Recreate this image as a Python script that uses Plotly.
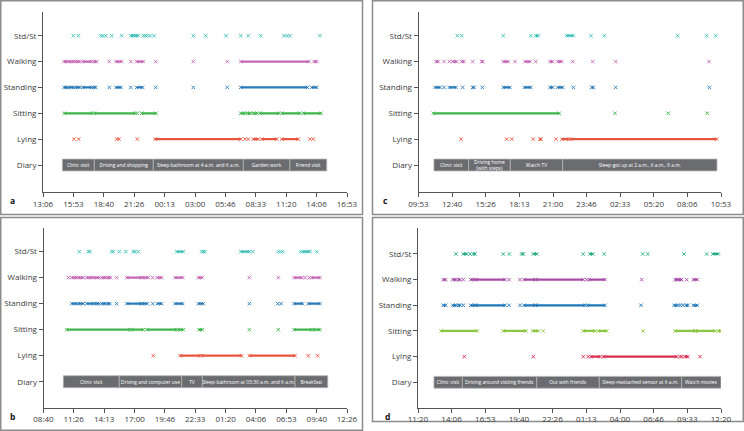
import plotly.graph_objects as go

# ---------------- data ----------------
ROWS = ["Diary", "Lying", "Sitting", "Standing", "Walking", "Std/St"]

# tick labels (clock time) for each panel
A_TICKS = ["13:06", "15:53", "18:40", "21:26", "00:13", "03:00", "05:46", "08:33", "11:20", "14:06", "16:53"]
B_TICKS = ["08:40", "11:26", "14:13", "17:00", "19:46", "22:33", "01:20", "04:06", "06:53", "09:40", "12:26"]
C_TICKS = ["09:53", "12:40", "15:26", "18:13", "21:00", "23:46", "02:33", "05:20", "08:06", "10:53"]
D_TICKS = ["11:20", "14:06", "16:53", "19:40", "22:26", "01:13", "04:00", "06:46", "09:33", "12:20"]

# events in hours since midnight of day 1 (values > 24 = next day);
# a single number = isolated epoch, a pair = continuous run
A_STDST = [15.87, 16.33, 18.37, 18.58, 18.83, 19.38, 20.29, [21.12, 21.35], [21.5, 21.81], 22.27, 22.45,
           22.63, 22.88, 23.24, 26.84, 27.97, 29.82, 31.17, 31.86, 32.99, 35.12, 35.4, 35.67, 38.41]
A_WALK = [[15.02, 15.3], [15.45, 15.9], [16.05, 16.48], [16.73, 17.55], [17.75, 18.01], 19.16, [19.77, 20.29],
          21.12, [21.66, 22.27], 23.40, 26.84, 29.94, [31.17, 37.41], [37.87, 38.12]]
A_STAND = [[15.02, 15.3], [15.45, 15.9], [16.05, 16.48], [16.73, 17.55], [17.7, 17.92], 19.16, [19.77, 20.23],
           21.12, [21.66, 22.21], 23.40, 26.84, 29.94, [31.17, 37.26], [37.66, 38.12]]
A_SIT = [[15.05, 17.6], [17.79, 21.51], 21.72, [22.12, 23.43], [31.17, 31.56], [31.77, 32.08], [32.32, 32.69],
         [32.93, 34.67], [34.92, 36.59], [36.89, 38.51]]
A_LIE = [15.93, 16.36, 19.84, 20.05, 21.72, [23.34, 31.17], 31.56, 31.86, [32.32, 32.78], [33.09, 34.46],
         [34.92, 36.43], 37.5, 37.8]
A_DIARY_EDGES = [14.87, 17.79, 23.18, 31.41, 35.67, 39.03]
A_DIARY = ["Clinic visit", "Driving and shopping", "Sleep-bathroom at 4 a.m. and 6 a.m.", "Garden work",
           "Friend visit"]

B_STDST = [11.94, 12.77, 12.92, 14.91, 15.05, 15.6, 16.21, 16.88, 17.04, 17.34, [20.85, 21.46], 23.14, 23.29,
           23.44, [26.71, 27.5], 27.81, 30.15, 30.35, 30.55, 32.2, [32.4, 32.9], 33.05, 33.66]
B_WALK = [10.94, [11.25, 11.7], [11.85, 12.31], [12.62, 13.1], [13.25, 13.77], [13.99, 14.35], [14.5, 14.81],
          15.36, [16.28, 17.6], [17.75, 18.25], 18.66, [19.08, 19.48], [20.7, 21.4], [22.83, 23.2], 27.5, 30.15,
          [31.59, 32.3], 32.59, 32.98, [33.2, 33.96]]
B_STAND = [[11.25, 11.7], [11.85, 12.31], [12.62, 13.2], [13.35, 13.77], [13.99, 14.35], [14.5, 14.75], 15.36,
           [16.28, 17.6], [17.7, 18.16], 18.66, [19.08, 19.48], [20.7, 21.4], [22.83, 23.29], 27.5, 30.09, 30.4,
           [31.59, 32.38], [32.89, 33.96]]
B_SIT = [[10.79, 16.58], [16.74, 17.8], [18.11, 20.85], [21.0, 21.46], [22.89, 23.2], 27.5, 30.15, [31.59, 33.2],
         [33.35, 33.96]]
B_LIE = [18.71, [21.16, 22.98], [23.14, 26.8], [27.5, 31.68], 32.89, 33.75]
B_DIARY_EDGES = [10.48, 15.6, 21.31, 23.2, 31.68, 34.67]
B_DIARY = ["Clinic visit", "Driving and computer use", "TV", "Sleep-bathroom at 03:30 a.m. and 6 a.m.",
           "Breakfast"]

C_STDST = [13.09, 13.45, 16.89, 19.16, [19.57, 19.78], [22.13, 22.68], 24.14, 25.24, 31.3, 33.7, 34.44]
C_WALK = [[11.33, 11.52], 11.99, 12.43, [12.71, 13.04], [13.45, 13.64], 14.36, [15.11, 15.19], [16.89, 17.3],
          17.86, [18.68, 19.1], 19.57, [20.75, 20.97], [21.39, 21.72], 22.63, 24.28, 26.18, 33.89]
C_STAND = [[11.25, 11.66], 11.99, [12.43, 12.98], 13.54, [14.36, 14.47], 15.16, [16.89, 17.44], [18.63, 19.16],
           [20.75, 20.97], [21.39, 21.8], 22.68, [24.2, 24.33], 26.18, 33.92]
C_SIT = [[11.11, 21.52], 26.12, 30.53, 33.75]
C_LIE = [13.4, 17.17, 17.59, 19.37, [19.92, 20.0], 21.25, [21.74, 22.3], [22.45, 34.53]]
C_DIARY_EDGES = [11.16, 14.03, 17.47, 21.8, 34.55]
C_DIARY = ["Clinic visit", "Driving home<br>(with steps)", "Watch TV", "Sleep-got up at 2 a.m., 6 a.m., 9 a.m."]

D_STDST = [14.47, [15.07, 15.35], 15.62, [15.9, 16.04], 18.37, 18.87, [19.89, 20.02], [20.85, 21.13], 24.97,
           [25.52, 25.75], 26.7, 29.87, 30.29, 33.28, 35.15, [35.65, 36.11]]
D_WALK = [[13.42, 13.62], [14.2, 14.47], [14.66, 14.8], 15.07, [15.68, 16.04], [16.12, 18.51], 18.84, 19.75,
          [20.08, 20.99], [21.07, 24.97], 25.25, [25.45, 26.76], 29.79, [32.54, 32.75], [32.85, 33.09], 33.5,
          [34.05, 34.38]]
D_STAND = [[13.42, 13.62], [14.2, 14.47], [14.66, 14.8], 15.07, [15.68, 16.04], [16.12, 18.51], 18.84, 19.75,
           [20.08, 20.99], [21.07, 25.11], [25.3, 26.76], 29.73, [32.46, 32.75], 32.95, 33.2, [33.45, 33.6],
           [34.05, 34.38]]
D_SIT = [[13.23, 16.23], [18.37, 20.24], [20.8, 21.26], 21.67, [24.97, 25.94], [26.21, 26.9], 29.9,
         [32.54, 34.19], [34.27, 35.84], [36.11, 36.3]]
D_LIE = [15.15, 20.85, 24.97, 25.38, [25.6, 26.35], [26.62, 32.68], 32.95, 33.1, [33.35, 33.6], 34.6]
D_DIARY_EDGES = [12.65, 14.99, 21.13, 26.29, 33.09, 36.33]
D_DIARY = ["Clinic visit", "Driving around visiting friends", "Out with friends",
           "Sleep-reattached sensor at 6 a.m.", "Watch movies"]

# ---------------- style ----------------
COL_ABC = ["#e8553e", "#3db54a", "#2a7ab8", "#c467b5", "#3bbfb8"]   # Lying, Sitting, Standing, Walking, Std/St
COL_D = ["#d92d4c", "#8dc641", "#1f78b8", "#a54ca6", "#27ad86"]
FONT = "Open Sans"
W, H = 744, 431


def clock_to_hours(labels):
    out, day, prev = [], 0, None
    for s in labels:
        hh, mm = s.split(":")
        v = int(hh) + int(mm) / 60.0
        if prev is not None and v + 24 * day < prev:
            day += 1
        val = v + 24 * day
        out.append(val)
        prev = val
    return out


fig = go.Figure()

PANELS = [
    # letter, ticks, states(Lying..Std/St), diary edges, diary labels, colors, x px, y px (top,bottom), yrange, letter pos
    ("a", A_TICKS, [A_LIE, A_SIT, A_STAND, A_WALK, A_STDST], A_DIARY_EDGES, A_DIARY, COL_ABC,
     (43, 347), (11.7, 192), (-1.044, 5.928), (12, 200)),
    ("b", B_TICKS, [B_LIE, B_SIT, B_STAND, B_WALK, B_STDST], B_DIARY_EDGES, B_DIARY, COL_ABC,
     (43.5, 347), (227.7, 407.7), (-1.0, 5.92), (13, 416)),
    ("c", C_TICKS, [C_LIE, C_SIT, C_STAND, C_WALK, C_STDST], C_DIARY_EDGES, C_DIARY, COL_ABC,
     (418.5, 721), (11.7, 192), (-1.044, 5.928), (385, 200)),
    ("d", D_TICKS, [D_LIE, D_SIT, D_STAND, D_WALK, D_STDST], D_DIARY_EDGES, D_DIARY, COL_D,
     (418, 721), (228.3, 407.7), (-0.99, 6.0), (387, 416.5)),
]

layout = {}
annotations = []
for i, (letter, ticks, states, edges, dlabels, cols, xpx, ypx, yr, lpos) in enumerate(PANELS, start=1):
    xa = "x" if i == 1 else f"x{i}"
    ya = "y" if i == 1 else f"y{i}"
    tv = clock_to_hours(ticks)

    # diary bar
    bases = edges[:-1]
    widths = [b - a for a, b in zip(edges[:-1], edges[1:])]
    fig.add_trace(go.Bar(
        y=[0] * len(bases), x=widths, base=bases, orientation="h", width=0.46,
        marker=dict(color="#6b6c70", line=dict(color="#b4b4b4", width=0.8)),
        text=dlabels, textposition="inside", insidetextanchor="middle", textangle=0,
        constraintext="none", textfont=dict(color="white", size=4.9, family=FONT),
        xaxis=xa, yaxis=ya, showlegend=False, hoverinfo="skip"))

    # activity rows
    for k, (ev, col) in enumerate(zip(states, cols), start=1):
        xs, ys = [], []
        for e in ev:
            if isinstance(e, (list, tuple)):
                xs += [e[0], e[1], None]
                ys += [k, k, None]
            else:
                xs += [e, None]
                ys += [k, None]
        fig.add_trace(go.Scatter(
            x=xs, y=ys, mode="lines+markers", connectgaps=False,
            line=dict(color=col, width=2.2),
            marker=dict(symbol="x-thin", size=3.5, color=col, line=dict(color=col, width=0.9)),
            xaxis=xa, yaxis=ya, showlegend=False, hoverinfo="skip"))

    axstyle = dict(showline=True, linecolor="#555555", linewidth=1, ticks="outside", ticklen=4,
                   tickcolor="#555555", showgrid=False, zeroline=False, automargin=False,
                   tickfont=dict(family=FONT, size=8, color="#3a3a3a"))
    layout["xaxis" if i == 1 else f"xaxis{i}"] = dict(
        domain=[xpx[0] / W, xpx[1] / W], range=[tv[0], tv[-1]], tickvals=tv, ticktext=ticks,
        anchor=ya, **axstyle)
    layout["yaxis" if i == 1 else f"yaxis{i}"] = dict(
        domain=[(H - ypx[1]) / H, (H - ypx[0]) / H], range=list(yr), tickvals=list(range(6)),
        ticktext=ROWS, anchor=xa, **axstyle)
    annotations.append(dict(text=f"<b>{letter}</b>", x=lpos[0] / W, y=(H - lpos[1]) / H, xref="paper",
                            yref="paper", xanchor="center", yanchor="middle", showarrow=False,
                            font=dict(family=FONT, size=8.5, color="#111")))

# panel frames (pixel boxes)
BOXES = [(0.75, 0.75, 362.5, 214.5), (372.5, 0.75, 743.25, 214.5), (0.75, 217.5, 362.5, 430.25),
         (372.5, 217.5, 743.25, 421.5)]
shapes = [dict(type="rect", xref="paper", yref="paper", x0=x0 / W, x1=x1 / W, y0=(H - y1) / H, y1=(H - y0) / H,
               line=dict(color="#8c8c8c", width=1.5), fillcolor="rgba(0,0,0,0)", layer="below")
          for x0, y0, x1, y1 in BOXES]

fig.update_layout(width=W, height=H, margin=dict(l=0, r=0, t=0, b=0), paper_bgcolor="white",
                  plot_bgcolor="white", barmode="overlay", annotations=annotations, shapes=shapes,
                  font=dict(family=FONT), **layout)
fig.write_html("out.html", config={"displayModeBar": False, "staticPlot": True},
               post_script="document.body.style.margin='0';document.body.style.overflow='hidden';")
